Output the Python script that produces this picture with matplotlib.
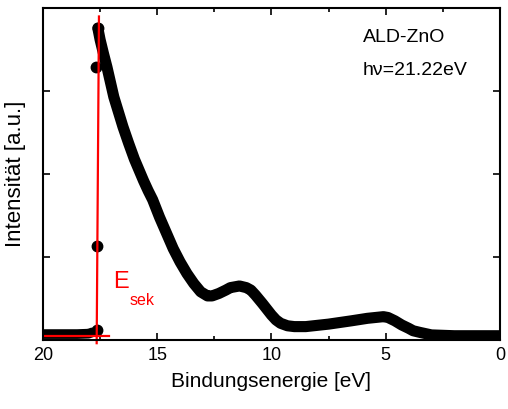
import matplotlib
matplotlib.use("Agg")
import matplotlib.pyplot as plt
from matplotlib.ticker import MultipleLocator

plt.rcParams['font.family'] = ['Liberation Sans', 'DejaVu Sans']

# UPS-Spektrum: Untergrund vor der Sekundärkante
base_e = [20.0, 19.5, 19.0, 18.5, 18.0, 17.85]
base_i = [0.07, 0.07, 0.07, 0.07, 0.075, 0.09]

# einzelne Messpunkte an der Kante
edge_e = [17.65, 17.65, 17.69, 17.58]
edge_i = [0.12, 1.13, 3.29, 3.76]

# Spektrum ab dem Maximum
spec_e = [17.6, 17.5, 17.35, 17.2, 16.9, 16.7, 16.5, 16.25, 16.0, 15.6, 15.4,
          15.2, 14.9, 14.6, 14.3, 14.0, 13.7, 13.4, 13.1, 12.8, 12.6, 12.3,
          12.0, 11.8, 11.4, 11.1, 10.9, 10.7, 10.4, 10.2, 10.0, 9.8, 9.6, 9.3,
          9.0, 8.5, 7.5, 6.5, 5.8, 5.1, 4.9, 4.6, 4.3, 4.0, 3.8, 3.5, 3.0,
          2.0, 1.0, 0.0]
spec_i = [3.76, 3.62, 3.45, 3.29, 2.93, 2.75, 2.57, 2.37, 2.18, 1.92, 1.80,
          1.69, 1.48, 1.29, 1.10, 0.94, 0.80, 0.68, 0.58, 0.53, 0.53, 0.56,
          0.60, 0.63, 0.65, 0.63, 0.60, 0.54, 0.44, 0.37, 0.30, 0.24, 0.20, 0.17,
          0.16, 0.16, 0.19, 0.23, 0.26, 0.28, 0.27, 0.23, 0.18, 0.14, 0.11, 0.09, 0.06,
          0.05, 0.05, 0.05]

# Sekundärkante (Fit-Geraden)
kante_e = [17.55, 17.65]
kante_i = [3.9, -0.04]
unt_e = [20.0, 17.1]
unt_i = [0.05, 0.05]

fig = plt.figure(figsize=(5.08, 4.09), dpi=100)
ax = fig.add_axes([0.0846, 0.169, 0.8996, 0.811])

ax.plot(base_e, base_i, color='black', lw=7, solid_capstyle='round', solid_joinstyle='round')
ax.plot(spec_e, spec_i, color='black', lw=8, solid_capstyle='round', solid_joinstyle='round')
ax.plot(edge_e, edge_i, 'o', color='black', ms=7.5)

ax.plot(kante_e, kante_i, color='red', lw=1.6, clip_on=False)
ax.plot(unt_e, unt_i, color='red', lw=1.6)

ax.text(6.0, 3.59, 'ALD-ZnO', fontsize=14, ha='left', va='baseline')
ax.text(6.0, 3.20, 'h\u03bd=21.22eV', fontsize=14, ha='left', va='baseline')
ax.text(16.94, 0.63, 'E', color='red', fontsize=17, ha='left', va='baseline')
ax.text(16.22, 0.42, 'sek', color='red', fontsize=11.5, ha='left', va='baseline')

ax.set_xlim(20, 0)
ax.set_ylim(0, 4)
ax.xaxis.set_major_locator(MultipleLocator(5))
ax.xaxis.set_minor_locator(MultipleLocator(2.5))
ax.set_yticks([1, 2, 3])
ax.set_yticklabels([])
ax.tick_params(which='both', direction='in', top=True, right=True, width=1.2)
ax.tick_params(which='major', length=5, labelsize=13, pad=5)
ax.tick_params(which='minor', length=3)
for s in ax.spines.values():
    s.set_linewidth(1.5)

ax.set_xlabel('Bindungsenergie [eV]', fontsize=15, labelpad=6)
ax.set_ylabel('Intensität [a.u.]', fontsize=16, labelpad=7)

fig.savefig('out.png', dpi=100)
